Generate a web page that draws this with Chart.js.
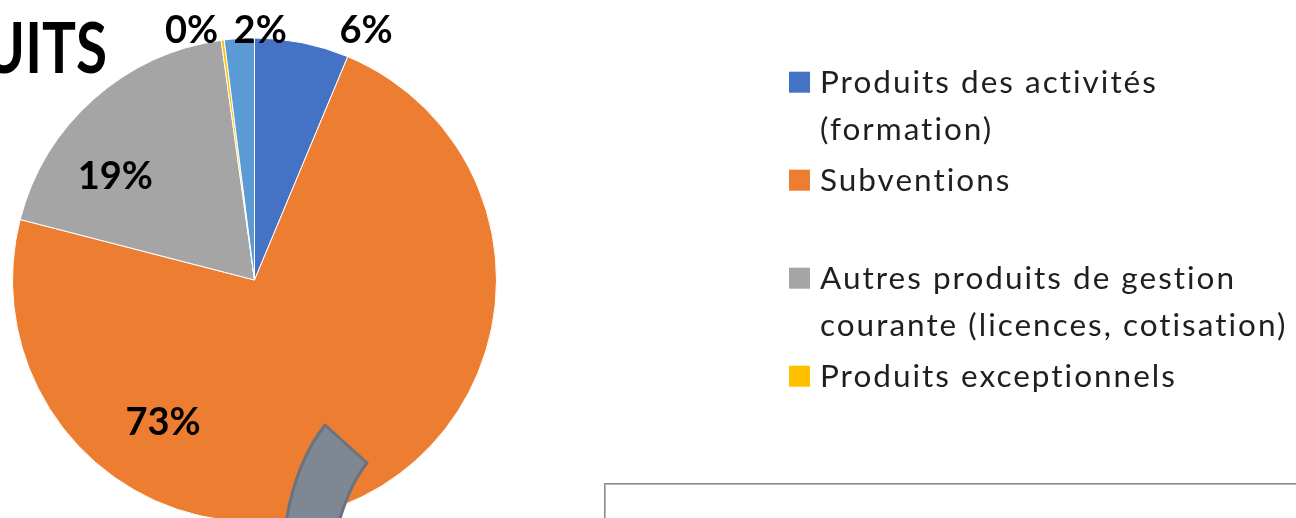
<!DOCTYPE html>
<html lang="fr">
<head>
<meta charset="utf-8">
<title>Produits</title>
<script src="https://cdn.jsdelivr.net/npm/chart.js@4.4.1/dist/chart.umd.min.js"></script>
<style>
  html, body { margin: 0; padding: 0; background: #fff; overflow: hidden; }
  #produits { display: block; }
</style>
</head>
<body>
<canvas id="produits" width="1296" height="518"></canvas>
<script>
// categories (each entry is one legend item, split in lines)
const categories = [
  ["Produits des activités", "(formation)"],
  ["Subventions", ""],
  ["Autres produits de gestion", "courante (licences, cotisation)"],
  ["Produits exceptionnels"],
  ["Produits financiers"],
];
// share of each category, in %
const shares = [6.3, 72.8, 18.8, 0.2, 2.0];

const sliceColors = ["#4472C4", "#ED7D31", "#A5A5A5", "#FFC000", "#5B9BD5"];

// where each % label sits: distance (x radius) and angle (deg, clockwise from top)
const labelSpots = [
  { r: 1.133, deg: 24 },
  { r: 0.696, deg: 212.9 },
  { r: 0.72, deg: 307 },
  { r: 1.067, deg: -14.1 },
  { r: 1.036, deg: 1.3 },
];

const FONT = "Lato, Carlito, 'Open Sans', sans-serif";

const percentLabels = {
  id: "percentLabels",
  afterDatasetsDraw(chart) {
    const ctx = chart.ctx;
    const meta = chart.getDatasetMeta(0);
    const values = chart.data.datasets[0].data;
    const total = values.reduce((a, b) => a + b, 0);

    // curved arrow shape lying on the pie
    ctx.save();
    ctx.beginPath();
    ctx.moveTo(325, 425);
    ctx.lineTo(367, 463);
    ctx.quadraticCurveTo(350, 484, 339, 522);
    ctx.lineTo(286, 522);
    ctx.quadraticCurveTo(296, 462, 325, 425);
    ctx.closePath();
    ctx.fillStyle = "#7F8792";
    ctx.fill();
    ctx.lineWidth = 3;
    ctx.lineJoin = "round";
    ctx.strokeStyle = "#6B7380";
    ctx.stroke();
    ctx.restore();

    ctx.save();
    ctx.font = "bold 38px " + FONT;
    ctx.fillStyle = "#000";
    ctx.textAlign = "center";
    ctx.textBaseline = "alphabetic";
    meta.data.forEach((arc, i) => {
      const spot = labelSpots[i];
      const a = (spot.deg * Math.PI) / 180;
      const dist = arc.outerRadius * spot.r;
      const x = arc.x + Math.sin(a) * dist;
      const y = arc.y - Math.cos(a) * dist;
      const txt = Math.round((values[i] / total) * 100) + "%";
      ctx.fillText(txt, x, y + 13.5);
    });
    ctx.restore();
  },
};

const sideItems = {
  id: "sideItems",
  afterDraw(chart) {
    const ctx = chart.ctx;

    // title, runs off the left edge (squeezed a little)
    ctx.save();
    ctx.translate(107, 73);
    ctx.scale(0.81, 1);
    ctx.font = "bold 70px " + FONT;
    ctx.fillStyle = "#000";
    ctx.textAlign = "right";
    ctx.fillText("PRODUITS", 0, 0);
    ctx.restore();

    // legend
    ctx.save();
    const lineH = 47;
    const itemGap = 4;
    const legendBottom = 410;
    let base = 92.7;
    ctx.font = "31.5px " + FONT;
    ctx.letterSpacing = "2px";
    ctx.textAlign = "left";
    categories.forEach((lines, i) => {
      const lastBase = base + (lines.length - 1) * lineH;
      if (lastBase + 10 > legendBottom) return;
      ctx.fillStyle = sliceColors[i];
      ctx.fillRect(789, base - 21, 21, 21);
      ctx.fillStyle = "#1f1f1f";
      lines.forEach((t, k) => ctx.fillText(t, 820, base + k * lineH));
      base = lastBase + lineH + itemGap;
    });
    ctx.restore();

    // text box frame at the bottom right
    ctx.save();
    ctx.lineWidth = 1;
    ctx.strokeStyle = "#8c8c8c";
    ctx.strokeRect(604.5, 483.5, 800, 100);
    ctx.strokeStyle = "#b8b8b8";
    ctx.strokeRect(605.5, 484.5, 800, 100);
    ctx.restore();
  },
};

new Chart(document.getElementById("produits"), {
  type: "pie",
  data: {
    labels: categories.map((l) => l.join(" ").trim()),
    datasets: [
      {
        data: shares,
        backgroundColor: sliceColors,
        borderColor: "#ffffff",
        borderWidth: 1,
        radius: 242,
        clip: false,
      },
    ],
  },
  options: {
    responsive: false,
    animation: false,
    layout: { padding: { left: 0, right: 787, top: 42, bottom: 0 } },
    plugins: {
      legend: { display: false },
      tooltip: { enabled: false },
    },
  },
  plugins: [percentLabels, sideItems],
});
</script>
</body>
</html>
